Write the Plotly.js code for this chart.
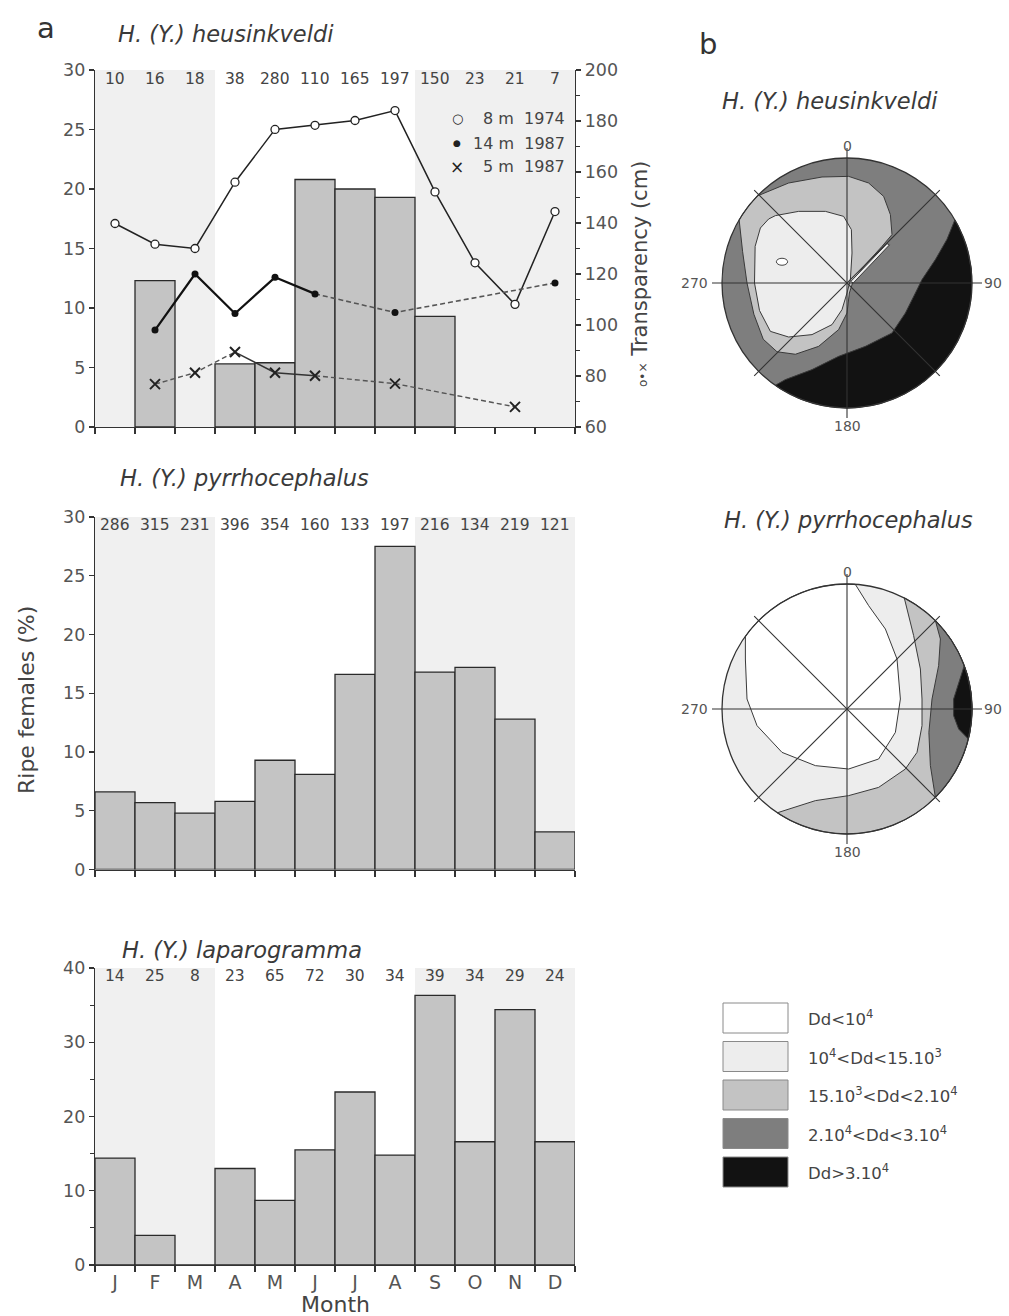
<!DOCTYPE html>
<html>
<head>
<meta charset="utf-8">
<script src="https://cdn.plot.ly/plotly-3.0.1.min.js"></script>
<style>html,body{margin:0;padding:0;background:#fff;}#chart{width:1009px;height:1316px;}</style>
</head>
<body>
<div id="chart"></div>
<script>
// ---------------- data ----------------
const months = ['J','F','M','A','M','J','J','A','S','O','N','D'];
const monthPos = [1,2,3,4,5,6,7,8,9,10,11,12];

const heusPct = [null,12.3,null,5.3,5.4,20.8,20.0,19.3,9.3,null,null,null];
const heusN = [10,16,18,38,280,110,165,197,150,23,21,7];
const trans8m1974 = [139.8,131.7,130.0,156.0,176.7,178.3,180.2,184.1,152.2,124.4,108.1,144.5];
const trans14m1987 = [null,98.0,120.0,104.5,118.7,112.2,null,104.9,null,null,null,116.5];
const trans5m1987 = [null,76.8,81.3,89.4,81.3,80.1,null,77.0,null,null,67.9,null];

const pyrrPct = [6.6,5.7,4.8,5.8,9.3,8.1,16.6,27.5,16.8,17.2,12.8,3.2];
const pyrrN = [286,315,231,396,354,160,133,197,216,134,219,121];

const lapaPct = [14.4,4.0,0,13.0,8.7,15.5,23.3,14.8,36.3,16.6,34.4,16.6];
const lapaN = [14,25,8,23,65,72,30,34,39,34,29,24];

const shadeMonths = [[0.5,3.5],[8.5,12.5]];

// density classes
const densLabels = ['Dd&lt;10<sup>4</sup>','10<sup>4</sup>&lt;Dd&lt;15.10<sup>3</sup>','15.10<sup>3</sup>&lt;Dd&lt;2.10<sup>4</sup>','2.10<sup>4</sup>&lt;Dd&lt;3.10<sup>4</sup>','Dd&gt;3.10<sup>4</sup>'];
const densColors = ['#ffffff','#ededed','#c3c3c3','#7e7e7e','#121212'];

// contour regions of the polar maps (unit circle; curve + closing arc in degrees)
const heusBlackCurve = [[0.863,0.505],[0.80,0.35],[0.707,0.187],[0.60,0.027],[0.547,-0.08],[0.467,-0.24],[0.36,-0.40],[0.147,-0.507],[-0.067,-0.587],[-0.28,-0.693],[-0.493,-0.773],[-0.574,-0.819]];
const heusBlackArc = [-125,30.3];
const heusLightCurve = [[-0.718,0.696],[-0.467,0.80],[-0.20,0.848],[0.013,0.853],[0.173,0.80],[0.293,0.693],[0.347,0.547],[0.36,0.387],[0.28,0.293],[0.147,0.147],[0.053,0.027],[0.019,-0.08],[0.0,-0.24],[-0.067,-0.373],[-0.227,-0.507],[-0.413,-0.57],[-0.56,-0.55],[-0.67,-0.45],[-0.745,-0.25],[-0.80,0.0],[-0.835,0.25],[-0.866,0.50]];
const heusLightArc = [150,136];
const heusPaleCurve = [[-0.573,0.539],[-0.387,0.573],[-0.173,0.573],[-0.027,0.533],[0.035,0.427],[0.04,0.24],[0.027,0.027],[0.0,-0.08],[-0.04,-0.213],[-0.12,-0.333],[-0.28,-0.413],[-0.467,-0.432],[-0.613,-0.387],[-0.70,-0.22],[-0.74,0.0],[-0.735,0.293],[-0.693,0.44],[-0.627,0.512],[-0.573,0.539]];
const heusPaleSliver = [[0.03,0.012],[0.32,0.315],[0.34,0.305],[0.05,0.0],[0.03,0.012]];
const heusWhiteSpot = [-0.52,0.17];

const pyrrWhiteCurve = [[-0.813,0.582],[-0.813,0.40],[-0.80,0.08],[-0.72,-0.133],[-0.52,-0.347],[-0.253,-0.453],[0.013,-0.48],[0.253,-0.40],[0.387,-0.187],[0.427,0.08],[0.40,0.40],[0.307,0.64],[0.173,0.827],[0.067,0.998]];
const pyrrWhiteArc = [86.2,144.4];
const pyrrLightCurve = [[-0.557,-0.83],[-0.253,-0.733],[0.013,-0.693],[0.253,-0.627],[0.467,-0.48],[0.56,-0.347],[0.60,-0.133],[0.60,0.08],[0.587,0.32],[0.533,0.587],[0.458,0.889]];
const pyrrLightArc = [62.7,-123.9];
const pyrrDarkCurve = [[0.707,0.707],[0.747,0.56],[0.733,0.347],[0.68,0.08],[0.655,-0.187],[0.667,-0.453],[0.707,-0.707]];
const pyrrDarkArc = [-45,45];
const pyrrBlackCurve = [[0.938,0.347],[0.893,0.213],[0.853,0.08],[0.853,-0.053],[0.893,-0.16],[0.971,-0.24]];
const pyrrBlackArc = [-13.9,20.3];

// ---------------- helpers ----------------
const W = 1009, H = 1316;
const PX = v => v / W;
const PY = v => 1 - v / H;
const FONT = 'DejaVu Sans, Verdana, sans-serif';
const TXT = '#4a4a4a';

function regionXY(curve, arc) {
  const xs = curve.map(p => p[0]);
  const ys = curve.map(p => p[1]);
  if (arc) {
    const n = 40;
    for (let i = 0; i <= n; i++) {
      const a = (arc[0] + (arc[1] - arc[0]) * i / n) * Math.PI / 180;
      xs.push(Math.cos(a)); ys.push(Math.sin(a));
    }
  }
  xs.push(xs[0]); ys.push(ys[0]);
  return {xs, ys};
}
function regionTrace(curve, arc, color, xa, ya) {
  const r = regionXY(curve, arc);
  return {x: r.xs, y: r.ys, xaxis: xa, yaxis: ya, type: 'scatter', mode: 'lines', fill: 'toself',
    fillcolor: color, line: {color: '#3a3a3a', width: 1}, hoverinfo: 'skip', showlegend: false};
}
function barTrace(vals, xa, ya) {
  return {x: monthPos, y: vals, xaxis: xa, yaxis: ya, type: 'bar', width: 1,
    marker: {color: '#c4c4c4', line: {color: '#2a2a2a', width: 1.3}}, hoverinfo: 'skip', showlegend: false};
}
const pick = (arr, lo, hi) => arr.map((v, i) => (i >= lo && i <= hi) ? v : null);

// ---------------- traces ----------------
const traces = [];
traces.push(barTrace(heusPct, 'x', 'y'));
traces.push(barTrace(pyrrPct, 'x2', 'y3'));
traces.push(barTrace(lapaPct, 'x3', 'y4'));

// transparency lines
traces.push({x: monthPos, y: trans8m1974, xaxis: 'x', yaxis: 'y2', mode: 'lines+markers', type: 'scatter',
  line: {color: '#222', width: 1.5}, marker: {symbol: 'circle', size: 8, color: '#fff', line: {color: '#222', width: 1.3}},
  hoverinfo: 'skip', showlegend: false});
traces.push({x: monthPos, y: pick(trans14m1987, 1, 5), xaxis: 'x', yaxis: 'y2', mode: 'lines', type: 'scatter',
  line: {color: '#111', width: 2.2}, hoverinfo: 'skip', showlegend: false});
traces.push({x: monthPos, y: pick(trans14m1987, 5, 11), xaxis: 'x', yaxis: 'y2', mode: 'lines', type: 'scatter', connectgaps: true,
  line: {color: '#555', width: 1.6, dash: '5px,3px'}, hoverinfo: 'skip', showlegend: false});
traces.push({x: monthPos, y: trans14m1987, xaxis: 'x', yaxis: 'y2', mode: 'markers', type: 'scatter',
  marker: {symbol: 'circle', size: 7, color: '#111'}, hoverinfo: 'skip', showlegend: false});
traces.push({x: monthPos, y: pick(trans5m1987, 1, 3), xaxis: 'x', yaxis: 'y2', mode: 'lines', type: 'scatter',
  line: {color: '#555', width: 1.4, dash: '5px,3px'}, hoverinfo: 'skip', showlegend: false});
traces.push({x: monthPos, y: pick(trans5m1987, 3, 5), xaxis: 'x', yaxis: 'y2', mode: 'lines', type: 'scatter',
  line: {color: '#333', width: 1.4}, hoverinfo: 'skip', showlegend: false});
traces.push({x: monthPos, y: pick(trans5m1987, 5, 11), xaxis: 'x', yaxis: 'y2', mode: 'lines', type: 'scatter', connectgaps: true,
  line: {color: '#555', width: 1.4, dash: '5px,3px'}, hoverinfo: 'skip', showlegend: false});
traces.push({x: monthPos, y: trans5m1987, xaxis: 'x', yaxis: 'y2', mode: 'markers', type: 'scatter',
  marker: {symbol: 'x-thin-open', size: 10, color: '#222', line: {color: '#222', width: 2}}, hoverinfo: 'skip', showlegend: false});

// polar map heusinkveldi
traces.push(regionTrace(heusBlackCurve, heusBlackArc, densColors[4], 'x4', 'y5'));
traces.push(regionTrace(heusLightCurve, heusLightArc, densColors[2], 'x4', 'y5'));
traces.push(regionTrace(heusPaleCurve, null, densColors[1], 'x4', 'y5'));
traces.push(regionTrace(heusPaleSliver, null, densColors[1], 'x4', 'y5'));
// polar map pyrrhocephalus
traces.push(regionTrace(pyrrWhiteCurve, pyrrWhiteArc, densColors[0], 'x5', 'y6'));
traces.push(regionTrace(pyrrLightCurve, pyrrLightArc, densColors[2], 'x5', 'y6'));
traces.push(regionTrace(pyrrDarkCurve, pyrrDarkArc, densColors[3], 'x5', 'y6'));
traces.push(regionTrace(pyrrBlackCurve, pyrrBlackArc, densColors[4], 'x5', 'y6'));

// ---------------- axes ----------------
const xDom = [PX(95), PX(575)];
function xAxis(anchor, labels) {
  return {domain: xDom, anchor: anchor, range: [0.5, 12.5], showgrid: false, zeroline: false,
    showline: true, linecolor: '#333', linewidth: 1.2, tickmode: 'array', tickvals: monthPos, ticktext: months,
    ticks: '', showticklabels: labels, ticklabelstandoff: 0, tickfont: {family: FONT, size: 19, color: '#555'},
    minor: {tickmode: 'linear', tick0: 0.5, dtick: 1, ticks: 'outside', ticklen: 6, tickcolor: '#333', tickwidth: 1.2, showgrid: false},
    fixedrange: true};
}
function yAxis(anchor, dom, range, dtick, minorDtick) {
  const a = {domain: dom, anchor: anchor, range: range, dtick: dtick, tick0: 0, showgrid: false, zeroline: false,
    showline: true, linecolor: '#333', linewidth: 1.2, ticks: 'outside', ticklen: 5, tickcolor: '#333', tickwidth: 1.2,
    tickfont: {family: FONT, size: 17.5, color: '#555'}, fixedrange: true};
  if (minorDtick) a.minor = {dtick: minorDtick, ticks: 'outside', ticklen: 4, tickcolor: '#333', tickwidth: 1.1, showgrid: false};
  return a;
}
const polR = 156.25;
function polAxes(cx, cy) {
  return [
    {domain: [PX(cx - polR), PX(cx + polR)], range: [-1.25, 1.25], visible: false, fixedrange: true},
    {domain: [PY(cy + polR), PY(cy - polR)], range: [-1.25, 1.25], visible: false, fixedrange: true}
  ];
}
const pTop = polAxes(847, 283), pBot = polAxes(847, 709);

// ---------------- shapes ----------------
const shapes = [];
[['x', 'y domain'], ['x2', 'y3 domain'], ['x3', 'y4 domain']].forEach(([xr, yr]) => {
  shadeMonths.forEach(([a, b]) => shapes.push({type: 'rect', xref: xr, yref: yr, x0: a, x1: b, y0: 0, y1: 1,
    fillcolor: '#f0f0f0', line: {width: 0}, layer: 'below'}));
});
function polarShapes(xr, yr, baseColor) {
  shapes.push({type: 'circle', xref: xr, yref: yr, x0: -1, x1: 1, y0: -1, y1: 1, fillcolor: baseColor, line: {width: 0}, layer: 'below'});
  const L = {color: '#333', width: 1.1};
  shapes.push({type: 'line', xref: xr, yref: yr, x0: -1.08, x1: 1.08, y0: 0, y1: 0, line: L, layer: 'above'});
  shapes.push({type: 'line', xref: xr, yref: yr, x0: 0, x1: 0, y0: -1.08, y1: 1.08, line: L, layer: 'above'});
  const d = 1.05 * Math.SQRT1_2;
  shapes.push({type: 'line', xref: xr, yref: yr, x0: -d, x1: d, y0: -d, y1: d, line: L, layer: 'above'});
  shapes.push({type: 'line', xref: xr, yref: yr, x0: -d, x1: d, y0: d, y1: -d, line: L, layer: 'above'});
  shapes.push({type: 'circle', xref: xr, yref: yr, x0: -1, x1: 1, y0: -1, y1: 1, line: {color: '#333', width: 1.3}, layer: 'above'});
}
polarShapes('x4', 'y5', densColors[3]);
polarShapes('x5', 'y6', densColors[1]);
shapes.push({type: 'circle', xref: 'x4', yref: 'y5', x0: heusWhiteSpot[0] - 0.045, x1: heusWhiteSpot[0] + 0.045,
  y0: heusWhiteSpot[1] - 0.028, y1: heusWhiteSpot[1] + 0.028, fillcolor: '#fff', line: {color: '#444', width: 1}, layer: 'above'});
// density legend boxes
densColors.forEach((c, i) => {
  const top = 1003 + i * 38.5;
  shapes.push({type: 'rect', xref: 'paper', yref: 'paper', x0: PX(723), x1: PX(788), y0: PY(top + 30), y1: PY(top),
    fillcolor: c, line: {color: '#8a8a8a', width: 1}});
});

// ---------------- annotations ----------------
const ann = [];
function note(text, x, y, opts) {
  ann.push(Object.assign({text: text, x: x, y: y, xref: 'paper', yref: 'paper', showarrow: false,
    font: {family: FONT, size: 15, color: TXT}, xanchor: 'left', yanchor: 'middle'}, opts || {}));
}
// sample counts
[[heusN, 'x', 'y domain', 0.975], [pyrrN, 'x2', 'y3 domain', 0.977], [lapaN, 'x3', 'y4 domain', 0.972]].forEach(([arr, xr, yr, yy]) => {
  arr.forEach((n, i) => ann.push({text: String(n), x: monthPos[i], y: yy, xref: xr, yref: yr, showarrow: false,
    font: {family: FONT, size: 15.5, color: '#444'}, xanchor: 'center', yanchor: 'middle'}));
});
// panel letters and titles
note('a', PX(35), PY(28), {font: {family: FONT, size: 29, color: '#333'}});
note('b', PX(697), PY(44), {font: {family: FONT, size: 29, color: '#333'}});
const tFont = {family: FONT, size: 22.5, color: '#3a3a3a'};
note('<i>H. (Y.) heusinkveldi</i>', PX(116), PY(34), {font: tFont});
note('<i>H. (Y.) pyrrhocephalus</i>', PX(118), PY(478), {font: tFont});
note('<i>H. (Y.) laparogramma</i>', PX(120), PY(950), {font: tFont});
note('<i>H. (Y.) heusinkveldi</i>', PX(830), PY(101), {font: tFont, xanchor: 'center'});
note('<i>H. (Y.) pyrrhocephalus</i>', PX(848), PY(520), {font: tFont, xanchor: 'center'});
// axis titles
note('Ripe females (%)', PX(26), PY(700), {font: {family: FONT, size: 22, color: '#444'}, textangle: -90, xanchor: 'center'});
note('Month', PX(335), PY(1304), {font: {family: FONT, size: 22, color: '#444'}, xanchor: 'center'});
note('<span style="font-size:12px">o\u2022\u00d7</span> Transparency (cm)', PX(640), PY(274),
  {font: {family: FONT, size: 21, color: '#444'}, textangle: -90, xanchor: 'center'});
// line legend
const legRows = [['\u25cb', '8 m  1974', 118, 13], ['\u25cf', '14 m  1987', 143, 9], ['\u00d7', '5 m  1987', 167, 17]];
legRows.forEach(([sym, label, y, sz]) => {
  note(sym, PX(457), PY(y), {font: {family: FONT, size: sz, color: '#222'}, xanchor: 'center'});
  note(label.replace(/ /g, '\u00a0'), PX(567), PY(y), {font: {family: FONT, size: 16, color: '#444'}, xanchor: 'right'});
});
// polar degree labels
[['x4', 'y5'], ['x5', 'y6']].forEach(([xr, yr]) => {
  const f = {family: FONT, size: 14, color: '#555'};
  ann.push({text: '0', x: 0, y: 1.1, xref: xr, yref: yr, showarrow: false, font: f});
  ann.push({text: '180', x: 0, y: -1.14, xref: xr, yref: yr, showarrow: false, font: f});
  ann.push({text: '270', x: -1.22, y: 0, xref: xr, yref: yr, showarrow: false, font: f});
  ann.push({text: '90', x: 1.17, y: 0, xref: xr, yref: yr, showarrow: false, font: f});
});
// density legend labels
densLabels.forEach((t, i) => note(t, PX(806), PY(1018 + i * 38.5), {font: {family: FONT, size: 16.5, color: '#444'}}));

// ---------------- layout ----------------
const layout = {
  width: W, height: H, margin: {l: 0, r: 0, t: 0, b: 0}, paper_bgcolor: '#fff', plot_bgcolor: 'rgba(0,0,0,0)',
  showlegend: false, barmode: 'overlay', font: {family: FONT},
  xaxis: xAxis('y', false),
  yaxis: yAxis('x', [PY(427), PY(70)], [0, 30], 5),
  yaxis2: Object.assign(yAxis('x', [PY(427), PY(70)], [60, 200], 20, 10), {overlaying: 'y', side: 'right', tick0: 60}),
  xaxis2: xAxis('y3', false),
  yaxis3: yAxis('x2', [PY(869.5), PY(517)], [0, 30], 5),
  xaxis3: xAxis('y4', true),
  yaxis4: yAxis('x3', [PY(1265), PY(968)], [0, 40], 10, 5),
  xaxis4: Object.assign(pTop[0], {anchor: 'y5'}),
  yaxis5: Object.assign(pTop[1], {anchor: 'x4'}),
  xaxis5: Object.assign(pBot[0], {anchor: 'y6'}),
  yaxis6: Object.assign(pBot[1], {anchor: 'x5'}),
  shapes: shapes,
  annotations: ann
};
Plotly.newPlot('chart', traces, layout, {staticPlot: true, displayModeBar: false});
</script>
</body>
</html>
